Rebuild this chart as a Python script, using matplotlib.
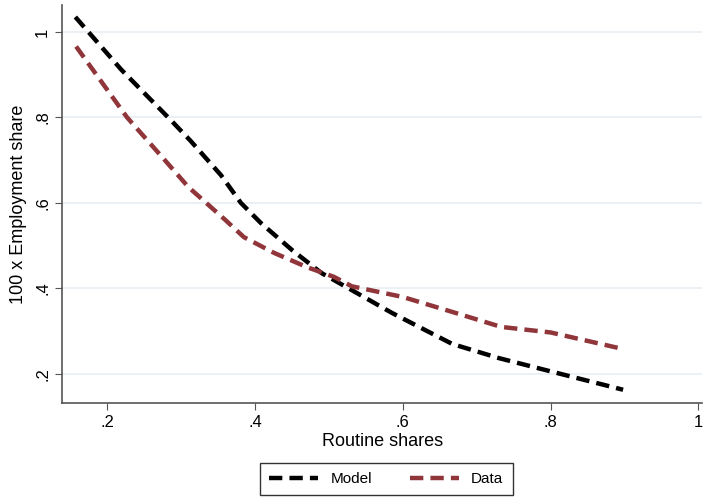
import numpy as np
import matplotlib.pyplot as plt

plt.rcParams['font.family'] = ['Liberation Sans', 'DejaVu Sans']

# Model series
model_x = [0.157, 0.219, 0.286, 0.313, 0.354, 0.381, 0.408, 0.45, 0.49, 0.531,
           0.585, 0.622, 0.667, 0.73, 0.8, 0.898]
model_y = [1.035, 0.912, 0.794, 0.745, 0.665, 0.60, 0.553, 0.49, 0.436, 0.396,
           0.343, 0.31, 0.27, 0.237, 0.206, 0.163]

# Data series
data_x = [0.158, 0.227, 0.272, 0.31, 0.36, 0.385, 0.426, 0.47, 0.507, 0.531,
          0.6, 0.667, 0.733, 0.8, 0.891]
data_y = [0.966, 0.80, 0.712, 0.637, 0.56, 0.52, 0.483, 0.45, 0.427, 0.405,
          0.38, 0.345, 0.31, 0.297, 0.261]

xticks = [0.2, 0.4, 0.6, 0.8, 1.0]
xticklabels = ['.2', '.4', '.6', '.8', '1']
yticks = [0.2, 0.4, 0.6, 0.8, 1.0]
yticklabels = ['.2', '.4', '.6', '.8', '1']

fig = plt.figure(figsize=(7.05, 5), dpi=100)
ax = fig.add_axes([0.088, 0.194, 0.908, 0.796])

ax.plot(model_x, model_y, color='black', lw=3.2, dashes=(3, 1.6), label='Model')
ax.plot(data_x, data_y, color='#903539', lw=3.2, dashes=(3, 1.6), label='Data')

ax.set_xlim(0.139, 1.005)
ax.set_ylim(0.132, 1.063)
ax.set_xticks(xticks)
ax.set_xticklabels(xticklabels)
ax.set_yticks(yticks)
ax.set_yticklabels(yticklabels, rotation=90, va='center')
ax.tick_params(labelsize=12, length=5, color='#555555')

ax.grid(axis='y', color='#e8eef2', lw=1.2)
ax.set_axisbelow(True)
for s in ['top', 'right']:
    ax.spines[s].set_visible(False)
for s in ['left', 'bottom']:
    ax.spines[s].set_color('#555555')
    ax.spines[s].set_linewidth(1.2)

ax.set_xlabel('Routine shares', fontsize=13, labelpad=2)
ax.set_ylabel('100 x Employment share', fontsize=13, labelpad=6)

leg = fig.legend(loc='lower center', bbox_to_anchor=(0.548, -0.006), ncol=2, frameon=True,
                 fancybox=False, edgecolor='black', fontsize=11, handlelength=3.2,
                 columnspacing=2.5, borderpad=0.6)
leg.get_frame().set_linewidth(1.0)

fig.savefig('out.png', dpi=100)
